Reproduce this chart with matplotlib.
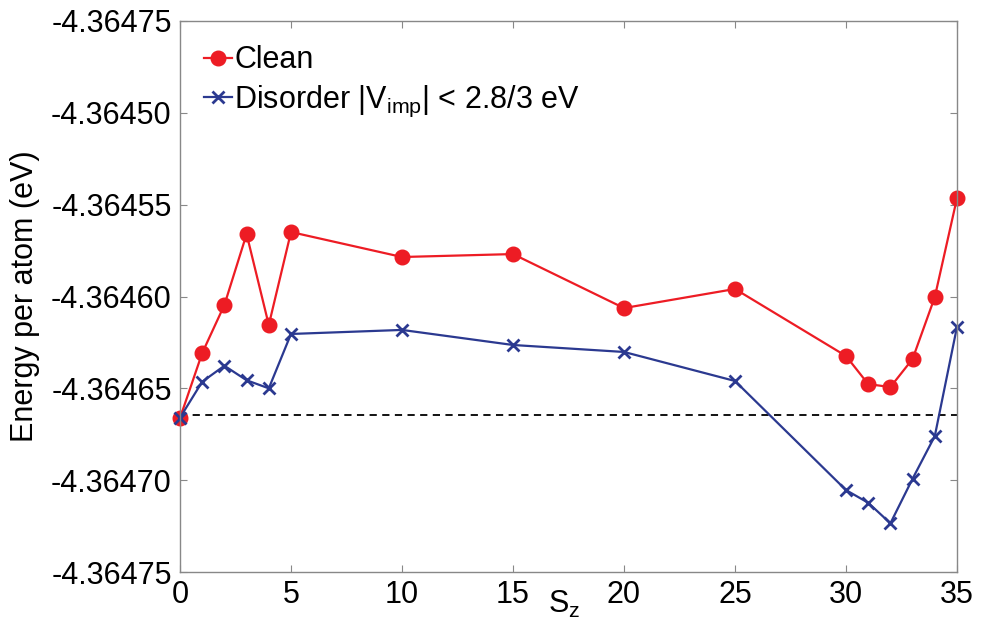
import matplotlib
matplotlib.use("Agg")
import matplotlib.pyplot as plt

plt.rcParams['font.family'] = ['Liberation Sans', 'DejaVu Sans']
plt.rcParams['mathtext.fontset'] = 'custom'
plt.rcParams['mathtext.rm'] = 'Liberation Sans'
plt.rcParams['mathtext.it'] = 'Liberation Sans'

sz = [0, 1, 2, 3, 4, 5, 10, 15, 20, 25, 30, 31, 32, 33, 34, 35]
clean = [-4.3646662, -4.3646308, -4.3646046, -4.3645660, -4.3646155, -4.3645649,
         -4.3645785, -4.3645769, -4.3646063, -4.3645959, -4.3646324, -4.3646477,
         -4.3646493, -4.3646340, -4.3646003, -4.3645464]
disorder = [-4.3646660, -4.3646464, -4.3646377, -4.3646456, -4.3646500, -4.3646204,
            -4.3646182, -4.3646264, -4.3646302, -4.3646460, -4.3647054, -4.3647123,
            -4.3647235, -4.3646992, -4.3646760, -4.3646165]
ref_level = -4.3646647
yticks = [-4.36475, -4.36470, -4.36465, -4.36460, -4.36455, -4.36450, -4.36445]
ytick_labels = ['-4.36475', '-4.36470', '-4.36465', '-4.36460', '-4.36455', '-4.36450', '-4.36475']
xticks = [0, 5, 10, 15, 20, 25, 30, 35]

red = '#ed1c24'
blue = '#2b3990'

fig = plt.figure(figsize=(9.81, 6.41), dpi=100)
ax = fig.add_axes([180/981, 69/641, 777/981, 551/641])

ax.plot([0, 35], [ref_level, ref_level], '--', color='black', lw=1.3, dashes=(4, 3))
ax.plot(sz, clean, '-o', color=red, lw=1.6, ms=10.5, label='Clean', clip_on=False)
ax.plot(sz, disorder, '-x', color=blue, lw=1.6, ms=9, mew=2,
        label=r'Disorder |V$_{\mathrm{imp}}$| < 2.8/3 eV', clip_on=False)

ax.set_xlim(0, 35)
ax.set_ylim(-4.36475, -4.36445)
ax.set_xticks(xticks)
ax.set_xticklabels([str(v) for v in xticks])
ax.set_yticks(yticks)
ax.set_yticklabels(ytick_labels)
ax.tick_params(direction='in', length=5, width=0.8, color='#888888',
               top=True, right=True, labelsize=22, pad=6)
for s in ax.spines.values():
    s.set_color('#888888')
    s.set_linewidth(1.0)

ax.set_ylabel('Energy per atom (eV)', fontsize=22)
ax.yaxis.set_label_coords(-0.18, 0.5)
ax.set_xlabel(r'S$_{\mathrm{z}}$', fontsize=22)
ax.xaxis.set_label_coords(0.495, -0.03)

ax.legend(loc='upper left', frameon=False, fontsize=22, handlelength=0.9,
          handletextpad=0.08, borderaxespad=0.45, labelspacing=0.27,
          numpoints=1, borderpad=0.35)

fig.savefig('out.png', dpi=100)
